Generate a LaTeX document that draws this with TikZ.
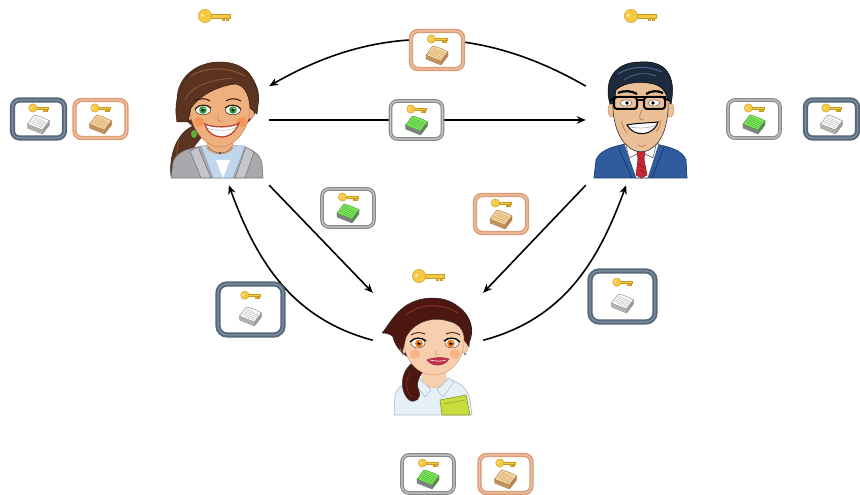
\documentclass[tikz,border=0pt]{standalone}
\usetikzlibrary{arrows.meta,calc}

% frames of the cards
\definecolor{slateA}{HTML}{56687A}
\definecolor{slateB}{HTML}{7F93A6}
\definecolor{peachA}{HTML}{DC9D76}
\definecolor{peachB}{HTML}{F0C4A6}
\definecolor{greyA}{HTML}{8A8A8A}
\definecolor{greyB}{HTML}{CBCBCB}
% key
\definecolor{keygold}{HTML}{F6C945}
\definecolor{keyedge}{HTML}{C99A22}
\definecolor{keyhole}{HTML}{FBE9A8}
% paper stacks
\definecolor{pw}{HTML}{FBFBFB}\definecolor{pwe}{HTML}{7F7F7F}\definecolor{pws}{HTML}{D4D4D4}\definecolor{pwr}{HTML}{ABABAB}
\definecolor{pt}{HTML}{F6D6A0}\definecolor{pte}{HTML}{A07445}\definecolor{pts}{HTML}{D6A86E}\definecolor{ptr}{HTML}{C59A62}
\definecolor{pg}{HTML}{7CE65A}\definecolor{pge}{HTML}{3C8E2A}\definecolor{pgs}{HTML}{B273C4}\definecolor{pgr}{HTML}{48A83A}
% first woman
\definecolor{hairA}{HTML}{5B3321}\definecolor{hairAd}{HTML}{3A1F12}\definecolor{hairAl}{HTML}{8A5535}
\definecolor{skinA}{HTML}{F0B07E}\definecolor{skinAd}{HTML}{C98255}
\definecolor{jacket}{HTML}{A9A9AD}\definecolor{jacketD}{HTML}{6D6D72}\definecolor{jacketL}{HTML}{C6C6CA}
\definecolor{shirtA}{HTML}{BFD6EC}\definecolor{shirtAd}{HTML}{8BA6C2}
\definecolor{eyeG}{HTML}{2E9E3E}\definecolor{lipA}{HTML}{B9473B}
% man
\definecolor{hairB}{HTML}{1D2A3E}\definecolor{hairBl}{HTML}{4A6890}
\definecolor{skinB}{HTML}{ECC096}\definecolor{skinBd}{HTML}{B98058}
\definecolor{suit}{HTML}{2F5C9E}\definecolor{suitD}{HTML}{1B3A6C}
\definecolor{tie}{HTML}{C62A38}\definecolor{tieD}{HTML}{7E1420}
% second woman
\definecolor{hairC}{HTML}{4B1710}\definecolor{hairCl}{HTML}{7E2D1E}
\definecolor{skinC}{HTML}{F7CFAE}\definecolor{skinCd}{HTML}{D49A78}
\definecolor{shirtC}{HTML}{E6F0F7}\definecolor{shirtCd}{HTML}{A9BDCB}
\definecolor{folder}{HTML}{C9DC3E}\definecolor{folderD}{HTML}{8C9D22}
\definecolor{eyeO}{HTML}{E37A12}\definecolor{lipC}{HTML}{C2304C}

\tikzset{
  link/.style={draw=black, line width=1.6pt, -{Stealth[length=9pt,width=7.5pt]}},
  actor/.style={inner sep=0pt, minimum width=108pt, minimum height=130pt},
  card/.style={rounded corners=7pt, fill=white, minimum width=52pt, minimum height=38pt, inner sep=0pt},
  bigcard/.style={card, minimum width=65pt, minimum height=51pt, rounded corners=9pt},
  frameSlate/.style={draw=slateA, line width=2pt, double=slateB, double distance=1.2pt},
  framePeach/.style={draw=peachA, line width=1.6pt, double=peachB, double distance=1.2pt},
  frameGrey/.style={draw=greyA, line width=1.3pt, double=greyB, double distance=1.1pt},
  pics/key/.style={code={
    \filldraw[fill=keygold, draw=keyedge, line width=0.35pt] (-2,-1.3) -- (10,-1.3) -- (10,1.3) -- (-2,1.3) -- cycle;
    \filldraw[fill=keygold, draw=keyedge, line width=0.35pt] (5,-1.3) rectangle (6.3,-2.8) (7.6,-1.3) rectangle (8.9,-2.8);
    \filldraw[fill=keygold, draw=keyedge, line width=0.35pt] (-5.6,0) circle (4.2);
    \fill[keyhole] (-7.3,0.4) circle (1.1);
  }},
  pics/doc/.style n args={4}{code={
    \filldraw[fill=#3, draw=#2, line width=.4pt] (-11,0) -- (4,-6) -- (11,3) -- (11,-1) -- (4,-10) -- (-11,-4) -- cycle;
    \draw[#2, line width=.3pt] (-11,-1.4) -- (4,-7.4) -- (11,1.6) (-11,-2.7) -- (4,-8.7) -- (11,0.3);
    \filldraw[fill=#1, draw=#2, line width=.4pt] (-11,0) .. controls (-8,3) and (-7,6) .. (-4,9)
      .. controls (1,8) and (7,5.5) .. (11,3) .. controls (8,0) and (6,-3) .. (4,-6)
      .. controls (-1,-4) and (-7,-2) .. (-11,0) -- cycle;
    \foreach \t in {0.2,0.35,0.5,0.65,0.8}
      \draw[#4, line width=.3pt] ($(-11,0)!\t!(-4,9)+(1.8,-0.3)$) -- ($(4,-6)!\t!(11,3)+(-1.8,0.3)$);
  }},
  pics/whitecard/.style={code={\pic at (0,11) {key}; \pic at (0,-5) {doc={pw}{pwe}{pws}{pwr}};}},
  pics/tancard/.style={code={\pic at (0,11) {key}; \pic at (0,-5) {doc={pt}{pte}{pts}{ptr}};}},
  pics/greencard/.style={code={\pic at (0,11) {key}; \pic at (0,-5) {doc={pg}{pge}{pgs}{pgr}};}},
}

\begin{document}
\begin{tikzpicture}[x=1pt,y=1pt]
\fill[white] (0,0) rectangle (860,495);
\useasboundingbox (0,0) rectangle (860,495);

% ---------- the three people (anchors for the arrows) ----------
\node[actor] (alice) at (215,375) {};
\node[actor] (bob) at (640,375) {};
\node[actor, minimum width=110pt, minimum height=120pt] (carol) at (428,142) {};

% ---------- first woman ----------
\begin{scope}[shift={(215,375)}]
  \filldraw[fill=hairA, draw=hairAd, line width=.5pt] (-22,-6) .. controls (-40,-14) and (-46,-38) .. (-44,-56)
    -- (-30,-56) .. controls (-30,-42) and (-24,-28) .. (-12,-16) -- cycle;
  \draw[hairAl, line width=.8pt] (-36,-20) .. controls (-40,-34) and (-38,-46) .. (-37,-54);
  \fill[hairA] (3,22) ellipse [x radius=41, y radius=36];
  \filldraw[fill=jacket, draw=jacketD, line width=.6pt] (-44,-58) -- (-42,-42) .. controls (-38,-31) and (-26,-28) .. (-10,-26)
    -- (22,-26) .. controls (36,-28) and (45,-33) .. (47,-44) -- (48,-58) -- cycle;
  \filldraw[fill=shirtA, draw=shirtAd, line width=.5pt] (-14,-26) -- (-2,-58) -- (18,-58) -- (30,-26) -- cycle;
  \fill[white] (1,-40) -- (8,-58) -- (15,-40) -- cycle;
  \filldraw[fill=jacketL, draw=jacketD, line width=.5pt] (-17,-27) -- (-4,-58) -- (-14,-58) -- (-25,-31) -- cycle;
  \filldraw[fill=jacketL, draw=jacketD, line width=.5pt] (31,-27) -- (20,-58) -- (30,-58) -- (39,-32) -- cycle;
  \filldraw[fill=skinA, draw=skinAd, line width=.4pt] (-8,-14) -- (-8,-28) .. controls (-2,-36) and (12,-36) .. (18,-28) -- (18,-14) -- cycle;
  \draw[black!60, line width=.5pt] (-7,-27) .. controls (0,-35) and (11,-35) .. (17,-27);
  \fill[black!70] (5,-33) circle (1.4);
  \filldraw[fill=skinA, draw=skinAd, line width=.4pt] (-25,6) ellipse [x radius=4, y radius=6];
  \filldraw[fill=skinA, draw=skinAd, line width=.4pt] (35,7) ellipse [x radius=4, y radius=6];
  \filldraw[fill=skinA, draw=skinAd, line width=.5pt] (-25,12) .. controls (-25,-8) and (-10,-27) .. (5,-27)
    .. controls (20,-27) and (35,-8) .. (35,12) .. controls (35,34) and (22,40) .. (5,40)
    .. controls (-12,40) and (-25,34) .. (-25,12) -- cycle;
  \filldraw[fill=hairA, draw=hairAd, line width=.5pt] (-38,-2) .. controls (-44,30) and (-25,58) .. (5,58)
    .. controls (35,58) and (47,36) .. (42,6) -- (35,12) .. controls (34,28) and (28,35) .. (20,36)
    .. controls (6,34) and (-12,28) .. (-24,12) -- (-27,-2) -- cycle;
  \draw[hairAl, line width=1.2pt] (-24,44) .. controls (-10,53) and (12,54) .. (30,44);
  \draw[hairAl, line width=.9pt] (-30,20) .. controls (-24,34) and (-5,40) .. (18,42);
  \fill[orange!70!red, opacity=.3] (-16,-2) circle (5) (27,-2) circle (5);
  \draw[hairAd, line width=1.1pt] (-20,19) .. controls (-15,22) and (-9,22) .. (-5,19);
  \draw[hairAd, line width=1.1pt] (11,19) .. controls (15,22) and (21,22) .. (26,19);
  \filldraw[fill=white, draw=hairAd, line width=.5pt] (-12,10) ellipse [x radius=7.5, y radius=4.8];
  \filldraw[fill=white, draw=hairAd, line width=.5pt] (18,10) ellipse [x radius=7.5, y radius=4.8];
  \fill[eyeG] (-12,10) circle (3.8) (18,10) circle (3.8);
  \fill[black] (-12,10) circle (1.6) (18,10) circle (1.6);
  \fill[white] (-11,11.3) circle (.8) (19,11.3) circle (.8);
  \draw[hairAd, line width=1.2pt] (-20,11) .. controls (-16,16) and (-8,16) .. (-4,12);
  \draw[hairAd, line width=1.2pt] (10,12) .. controls (14,16) and (22,16) .. (26,11);
  \draw[skinAd, line width=.7pt] (4,5) .. controls (1,0) and (3,-2) .. (8,-1);
  \filldraw[fill=white, draw=lipA, line width=1.3pt] (-10,-4) .. controls (-3,-8) and (17,-8) .. (24,-3)
    .. controls (20,-14) and (12,-17) .. (7,-17) .. controls (0,-17) and (-8,-13) .. (-10,-4) -- cycle;
  \draw[black!30, line width=.5pt] (-7,-8.5) .. controls (2,-11) and (14,-11) .. (21,-7.5);
  \fill[eyeG!80!yellow] (-21,-14) ellipse [x radius=3, y radius=4];
\end{scope}

% ---------- man ----------
\begin{scope}[shift={(640,375)}]
  \filldraw[fill=suit, draw=suitD, line width=.7pt] (-46,-58) -- (-44,-40) .. controls (-40,-30) and (-28,-27) .. (-15,-24)
    -- (15,-24) .. controls (30,-27) and (42,-30) .. (46,-40) -- (47,-58) -- cycle;
  \filldraw[fill=white, draw=suitD, line width=.5pt] (-16,-24) -- (-4,-58) -- (8,-58) -- (19,-24) -- cycle;
  \draw[suitD, line width=.8pt] (-22,-27) -- (-8,-58) (24,-27) -- (12,-58);
  \filldraw[fill=skinB, draw=skinBd, line width=.4pt] (-13,-10) -- (-12,-28) .. controls (-5,-33) and (8,-33) .. (15,-28) -- (14,-10) -- cycle;
  \filldraw[fill=tie, draw=tieD, line width=.5pt] (-2,-39) -- (4,-39) -- (7,-55) -- (1.5,-58) -- (-4,-55) -- cycle;
  \filldraw[fill=white, draw=black!70, line width=.5pt] (-15,-21) -- (-1,-33) -- (-11,-38) -- cycle;
  \filldraw[fill=white, draw=black!70, line width=.5pt] (17,-21) -- (3,-33) -- (13,-38) -- cycle;
  \filldraw[fill=tie, draw=tieD, line width=.5pt] (-3,-32) -- (5,-32) -- (4,-39) -- (-2,-39) -- cycle;
  \draw[tieD, line width=.6pt] (-1,-44) -- (4,-48) (0,-50) -- (5,-53);
  \filldraw[fill=skinB, draw=skinBd, line width=.4pt] (-28,10) ellipse [x radius=4, y radius=7];
  \filldraw[fill=skinB, draw=skinBd, line width=.4pt] (30,10) ellipse [x radius=4, y radius=7];
  \filldraw[fill=skinB, draw=black!80, line width=.6pt] (-27,20) .. controls (-28,0) and (-22,-20) .. (-10,-28)
    .. controls (-4,-33) and (6,-33) .. (12,-28) .. controls (24,-20) and (29,0) .. (28,20)
    .. controls (28,38) and (15,42) .. (0,42) .. controls (-15,42) and (-27,38) .. (-27,20) -- cycle;
  \filldraw[fill=hairB, draw=black, line width=.5pt] (-30,16) .. controls (-37,40) and (-25,58) .. (0,58)
    .. controls (25,60) and (37,45) .. (31,16) -- (27,22) .. controls (25,32) and (18,36) .. (8,37)
    .. controls (-5,39) and (-18,36) .. (-24,30) -- (-26,16) -- cycle;
  \draw[hairBl, line width=1pt] (-22,46) .. controls (-10,54) and (8,55) .. (22,48);
  \draw[hairBl, line width=.8pt] (-16,40) .. controls (-6,47) and (6,48) .. (16,44);
  \draw[black, line width=2.2pt] (-22,27) .. controls (-15,30) and (-8,29) .. (-3,26);
  \draw[black, line width=2.2pt] (6,26) .. controls (11,29) and (17,30) .. (23,27);
  \filldraw[fill=white, draw=black!70, line width=.4pt] (-14,17) ellipse [x radius=6, y radius=3];
  \filldraw[fill=white, draw=black!70, line width=.4pt] (14,17) ellipse [x radius=6, y radius=3];
  \fill[black] (-13,17) circle (1.8) (13,17) circle (1.8);
  \draw[black, line width=2pt, rounded corners=3pt] (-26,11) rectangle (-3,23) (4,11) rectangle (25,23);
  \draw[black, line width=2.6pt] (-27,23) -- (26,23);
  \draw[black, line width=1.8pt] (-3,20) -- (4,20) (-26,21) -- (-30,20) (25,21) -- (29,20);
  \draw[skinBd, line width=.8pt] (2,10) .. controls (-2,2) and (-1,0) .. (4,0);
  \filldraw[fill=white, draw=black, line width=1pt] (-13,-5) .. controls (-4,-3) and (10,-3) .. (18,-2)
    .. controls (14,-16) and (-6,-18) .. (-13,-5) -- cycle;
  \draw[black!40, line width=.5pt] (-10,-7) .. controls (0,-9) and (10,-8) .. (16,-5);
  \draw[skinBd, line width=.8pt] (-19,-1) .. controls (-17,-6) and (-16,-10) .. (-13,-13);
  \draw[skinBd, line width=.8pt] (21,0) .. controls (20,-5) and (19,-9) .. (16,-12);
  \draw[skinBd, line width=.7pt] (-2,-25) .. controls (1,-27) and (4,-27) .. (6,-25);
\end{scope}

% ---------- second woman ----------
\begin{scope}[shift={(428,140)}]
  \fill[hairC] (4,24) ellipse [x radius=40, y radius=33];
  \filldraw[fill=shirtC, draw=shirtCd, line width=.6pt] (-34,-60) -- (-33,-40) .. controls (-30,-30) and (-20,-26) .. (-8,-24)
    -- (20,-24) .. controls (32,-27) and (40,-34) .. (42,-45) -- (44,-60) -- cycle;
  \filldraw[fill=skinC, draw=skinCd, line width=.4pt] (-6,-10) -- (-6,-28) .. controls (2,-34) and (10,-34) .. (18,-28) -- (18,-10) -- cycle;
  \filldraw[fill=shirtC, draw=shirtCd, line width=.5pt] (-9,-23) -- (3,-35) -- (-3,-42) -- (-14,-27) -- cycle;
  \filldraw[fill=shirtC, draw=shirtCd, line width=.5pt] (21,-23) -- (9,-35) -- (15,-42) -- (26,-27) -- cycle;
  \filldraw[fill=folder, draw=folderD, line width=.6pt] (12,-45) -- (38,-40) -- (42,-60) -- (14,-60) -- cycle;
  \draw[folderD, line width=.5pt] (16,-49) -- (37,-45);
  \filldraw[fill=hairC, draw=black!80, line width=.4pt] (-16,-8) .. controls (-30,-20) and (-27,-38) .. (-19,-45)
    .. controls (-13,-49) and (-6,-43) .. (-9,-36) .. controls (-13,-28) and (-8,-20) .. (-3,-14) -- cycle;
  \draw[hairCl, line width=.8pt] (-18,-18) .. controls (-24,-28) and (-21,-38) .. (-16,-42);
  \filldraw[fill=skinC, draw=skinCd, line width=.4pt] (-24,8) ellipse [x radius=4, y radius=6];
  \filldraw[fill=skinC, draw=skinCd, line width=.4pt] (36,8) ellipse [x radius=4, y radius=6];
  \fill[slateB] (-25,1) circle (1.5) (37,1) circle (1.5);
  \filldraw[fill=skinC, draw=skinCd, line width=.5pt] (-24,14) .. controls (-24,-5) and (-10,-20) .. (6,-20)
    .. controls (22,-20) and (36,-5) .. (36,14) .. controls (36,34) and (22,40) .. (6,40)
    .. controls (-10,40) and (-24,34) .. (-24,14) -- cycle;
  \filldraw[fill=hairC, draw=black!80, line width=.4pt] (-26,2) .. controls (-30,18) and (-38,22) .. (-46,22)
    .. controls (-36,34) and (-28,55) .. (2,57) .. controls (30,58) and (44,40) .. (41,8) -- (37,14)
    .. controls (36,26) and (30,32) .. (20,34) .. controls (8,38) and (-12,36) .. (-22,18) -- cycle;
  \draw[hairCl, line width=1.2pt] (-22,40) .. controls (-8,52) and (14,52) .. (30,42);
  \fill[orange!80!red, opacity=.25] (-13,1) circle (5) (27,1) circle (5);
  \draw[hairC, line width=.9pt] (-17,20) .. controls (-13,23) and (-7,23) .. (-3,21);
  \draw[hairC, line width=.9pt] (18,21) .. controls (22,23) and (28,23) .. (32,20);
  \filldraw[fill=white, draw=hairC, line width=.4pt] (-10,12) ellipse [x radius=7, y radius=5];
  \filldraw[fill=white, draw=hairC, line width=.4pt] (24,12) ellipse [x radius=7, y radius=5];
  \fill[eyeO] (-9,11.5) circle (3.9) (23,11.5) circle (3.9);
  \fill[black] (-9,11.5) circle (1.7) (23,11.5) circle (1.7);
  \fill[white] (-8,13) circle (.8) (24,13) circle (.8);
  \draw[black, line width=1.3pt] (-18,13) .. controls (-14,18) and (-6,18) .. (-2,14);
  \draw[black, line width=1.3pt] (16,14) .. controls (20,18) and (28,18) .. (32,13);
  \draw[skinCd, line width=.6pt] (8,5) .. controls (6,1) and (8,0) .. (11,0);
  \filldraw[fill=lipC, draw=lipC!70!black, line width=.4pt] (-1,-5) .. controls (5,-2) and (16,-2) .. (21,-4)
    .. controls (16,-12) and (4,-12) .. (-1,-5) -- cycle;
  \draw[white, line width=.6pt] (2,-5) .. controls (8,-6.5) and (14,-6.5) .. (18,-5);
\end{scope}

% ---------- keys above the people ----------
\pic[scale=1.6] at (214,479) {key};
\pic[scale=1.6] at (640,479) {key};
\pic[scale=1.6] at (428,219) {key};

% ---------- connectors ----------
\draw[link] (bob.148) to[out=150,in=30] (alice.32);
\draw[link] (alice.east) -- (bob.west);
\draw[link] (alice.south east) -- (carol.north west);
\draw[link] (bob.south west) -- (carol.north east);
\draw[link] (carol.167) to[out=165,in=-70] (alice.-78);
\draw[link] (carol.13) to[out=15,in=-110] (bob.-102);

% ---------- cards ----------
\node[card, frameSlate] (aliceOwn) at (38.5,376) {};
\pic at (aliceOwn) {whitecard};
\node[card, framePeach] (aliceGot) at (100.5,376) {};
\pic at (aliceGot) {tancard};

\node[card, frameGrey] (bobGot) at (754,376) {};
\pic at (bobGot) {greencard};
\node[card, frameSlate] (bobOwn) at (831.5,376) {};
\pic at (bobOwn) {whitecard};

\node[card, framePeach] (topMsg) at (437,445) {};
\pic at (topMsg) {tancard};
\node[card, frameGrey] (midMsg) at (416.5,375) {};
\pic at (midMsg) {greencard};
\node[card, frameGrey] (acMsg) at (348,287) {};
\pic at (acMsg) {greencard};
\node[card, framePeach] (bcMsg) at (501,281) {};
\pic at (bcMsg) {tancard};

\node[bigcard, frameSlate] (caMsg) at (250.5,185.5) {};
\pic[scale=1.3] at (caMsg) {whitecard};
\node[bigcard, frameSlate] (cbMsg) at (622.5,198.5) {};
\pic[scale=1.3] at (cbMsg) {whitecard};

\node[card, frameGrey] (carolGotB) at (428,21) {};
\pic at (carolGotB) {greencard};
\node[card, framePeach] (carolGotA) at (505.5,21) {};
\pic at (carolGotA) {tancard};
\end{tikzpicture}
\end{document}
